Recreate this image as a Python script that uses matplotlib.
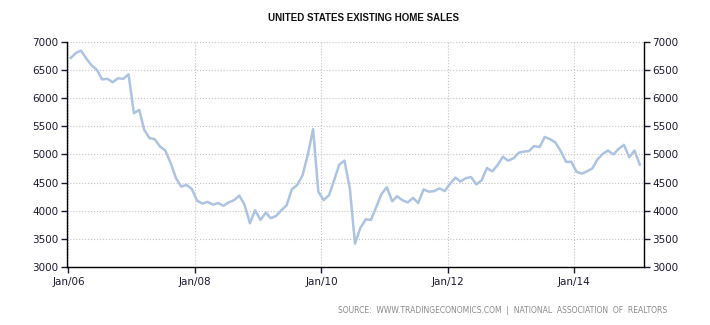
import matplotlib
matplotlib.use("Agg")
import matplotlib.pyplot as plt
import numpy as np
import pandas as pd
import datetime as dt

# existing home sales, monthly, Jan 2006 - Jan 2015 (thousands)
sales = [6710, 6800, 6840, 6700, 6580, 6500, 6330, 6340, 6280, 6350, 6340, 6420,
         5730, 5790, 5440, 5290, 5270, 5140, 5070, 4850, 4580, 4430, 4460, 4390,
         4180, 4130, 4160, 4110, 4140, 4090, 4150, 4190, 4270, 4110, 3780, 4010,
         3840, 3970, 3870, 3910, 4010, 4100, 4380, 4460, 4630, 4990, 5450, 4340,
         4190, 4280, 4530, 4820, 4890, 4400, 3420, 3700, 3850, 3840, 4070, 4300,
         4420, 4170, 4260, 4190, 4150, 4230, 4140, 4380, 4340, 4350, 4400, 4350,
         4480, 4590, 4520, 4580, 4600, 4470, 4540, 4760, 4700, 4810, 4960, 4890,
         4930, 5030, 5050, 5060, 5150, 5130, 5310, 5270, 5210, 5060, 4870, 4870,
         4690, 4660, 4700, 4750, 4910, 5010, 5070, 5000, 5100, 5170, 4950, 5070,
         4820]
dates = pd.date_range("2006-01-01", periods=len(sales), freq="MS") + pd.Timedelta(days=13)

tick_years = [2006, 2008, 2010, 2012, 2014]
tick_labels = ["Jan/06", "Jan/08", "Jan/10", "Jan/12", "Jan/14"]
yticks = np.arange(3000, 7001, 500)

fig = plt.figure(figsize=(7.1, 3.25), dpi=100)
ax = fig.add_axes([0.094, 0.1775, 0.813, 0.6945])

ax.plot(dates, sales, color="#aec3e0", lw=1.8, solid_joinstyle="round")

ax.set_xlim(dt.date(2005, 12, 22), dt.date(2015, 2, 7))
ax.set_ylim(3000, 7000)
ax.set_xticks([dt.date(y, 1, 1) for y in tick_years])
ax.set_xticklabels(tick_labels)
ax.set_yticks(yticks)

ax.grid(True, ls=":", color="#c4c4c4", lw=0.8)
ax.spines["top"].set_visible(False)
for s in ["left", "right", "bottom"]:
    ax.spines[s].set_linewidth(1.0)

ax.tick_params(axis="y", which="both", left=True, right=True, labelleft=True,
               labelright=True, direction="out", length=4, width=1,
               labelsize=7.5, colors="#1a1a2e", pad=2)
ax.tick_params(axis="x", direction="out", length=4, width=1, labelsize=7.5,
               colors="#1a1a2e", pad=3)

fig.text(0.512, 0.945, "UNITED STATES EXISTING HOME SALES", ha="center", va="center",
         fontsize=7, fontweight="bold", color="#111111", family="Liberation Sans")
fig.text(0.94, 0.045, "SOURCE:  WWW.TRADINGECONOMICS.COM  |  NATIONAL  ASSOCIATION  OF  REALTORS",
         ha="right", va="center", fontsize=5.5, color="#8a8a8a")

fig.savefig("out.png", dpi=100)
